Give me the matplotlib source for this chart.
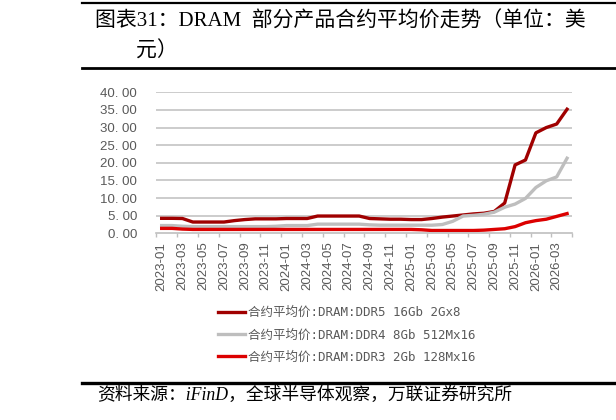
import matplotlib
matplotlib.use('Agg')
import matplotlib.pyplot as plt
from matplotlib.lines import Line2D
import pandas as pd

# monthly categories 2023-01 .. 2026-04
months = [d.strftime('%Y-%m') for d in pd.date_range('2023-01-01', '2026-04-01', freq='MS')]

ddr5 = [4.25, 4.25, 4.2, 3.2, 3.2, 3.2, 3.2, 3.6, 3.9, 4.1, 4.1, 4.1,
        4.2, 4.2, 4.2, 4.9, 4.9, 4.9, 4.9, 4.9, 4.2, 4.1, 4.0, 4.0,
        3.9, 3.9, 4.2, 4.6, 4.9, 5.2, 5.5, 5.7, 6.2, 8.6, 19.4, 20.8,
        28.5, 30.0, 31.0, 35.2]
ddr4 = [2.2, 2.2, 2.0, 1.9, 1.9, 1.9, 1.9, 1.9, 1.9, 1.9, 1.9, 2.0,
        2.2, 2.2, 2.2, 2.6, 2.6, 2.6, 2.6, 2.6, 2.4, 2.3, 2.3, 2.3,
        2.3, 2.3, 2.3, 2.5, 3.4, 4.9, 5.1, 5.4, 6.0, 7.4, 8.3, 9.9,
        13.0, 14.9, 16.0, 21.3]
ddr3 = [1.4, 1.4, 1.2, 1.1, 1.1, 1.1, 1.1, 1.1, 1.1, 1.1, 1.1, 1.1,
        1.1, 1.1, 1.1, 1.1, 1.1, 1.1, 1.1, 1.1, 1.1, 1.1, 1.1, 1.1,
        1.1, 1.0, 0.8, 0.8, 0.8, 0.8, 0.8, 0.9, 1.1, 1.3, 1.9, 3.0,
        3.6, 4.0, 4.8, 5.6]

labels = ['合约平均价:DRAM:DDR5 16Gb 2Gx8',
          '合约平均价:DRAM:DDR4 8Gb 512Mx16',
          '合约平均价:DRAM:DDR3 2Gb 128Mx16']
colors = ['#A00000', '#BEBEBE', '#DC0000']

title1 = '图表31：DRAM  部分产品合约平均价走势（单位：美'
title2 = '元）'
source = '资料来源：iFinD，全球半导体观察，万联证券研究所'

plt.rcParams['font.family'] = ['Liberation Sans', 'Noto Sans CJK SC']
grid_c = '#BFBFBF'
text_c = '#595959'

fig = plt.figure(figsize=(6.16, 4.2), dpi=100)
ax = fig.add_axes([0.254, 0.4445, 0.675, 0.3357])

x = list(range(len(months)))
for series, lab, c in zip([ddr5, ddr4, ddr3], labels, colors):
    ax.plot(x, series, color=c, lw=2.4, label=lab, solid_joinstyle='round')

ax.set_xlim(-0.5, len(months) - 0.5)
ax.set_ylim(0, 40)
ax.set_yticks(range(0, 41, 5))
ax.set_yticklabels(['{:.2f}'.format(v).replace('.', '. ') for v in range(0, 41, 5)])
for v in range(5, 41, 5):
    ax.axhline(v, color=grid_c, lw=1.1, zorder=0)

ax.set_xticks(x[::2])
ax.set_xticklabels(months[::2], rotation=90)
ax.set_xticks([i - 0.5 for i in range(0, len(months) + 1, 2)], minor=True)
ax.tick_params(axis='x', which='major', length=0, pad=6, labelsize=9.5, labelcolor=text_c)
ax.tick_params(axis='x', which='minor', length=3, color=grid_c, width=1)
ax.tick_params(axis='y', length=0, pad=14, labelsize=9.5, labelcolor=text_c)

for s in ['top', 'right', 'left']:
    ax.spines[s].set_visible(False)
ax.spines['bottom'].set_color(grid_c)
ax.spines['bottom'].set_linewidth(1.2)

fig.legend(loc='center left', bbox_to_anchor=(0.3437, 0.2024), frameon=False,
           handlelength=2.2, handletextpad=0.2, labelspacing=0.75, borderpad=0,
           prop={'family': ['DejaVu Sans Mono', 'Noto Sans CJK SC'], 'size': 9},
           labelcolor=text_c)

# header / footer rules
fig.add_artist(Line2D([0.1326, 1.0], [0.9936, 0.9936], color='black', lw=1.6))
fig.add_artist(Line2D([0.1326, 1.0], [0.8374, 0.8374], color='black', lw=2.0))
fig.add_artist(Line2D([0.1326, 1.0], [0.0874, 0.0874], color='black', lw=2.4))

fig.text(0.154, 0.948, title1, fontsize=15, va='center', ha='left',
         family=['Liberation Serif', 'Noto Sans CJK SC'])
fig.text(0.22, 0.877, title2, fontsize=15, va='center', ha='left',
         family=['Liberation Serif', 'Noto Sans CJK SC'])
fig.text(0.157, 0.058, source, fontsize=12.8, va='center', ha='left', style='italic',
         family=['Liberation Serif', 'Noto Sans CJK SC'])

fig.savefig('out.png', dpi=100)
